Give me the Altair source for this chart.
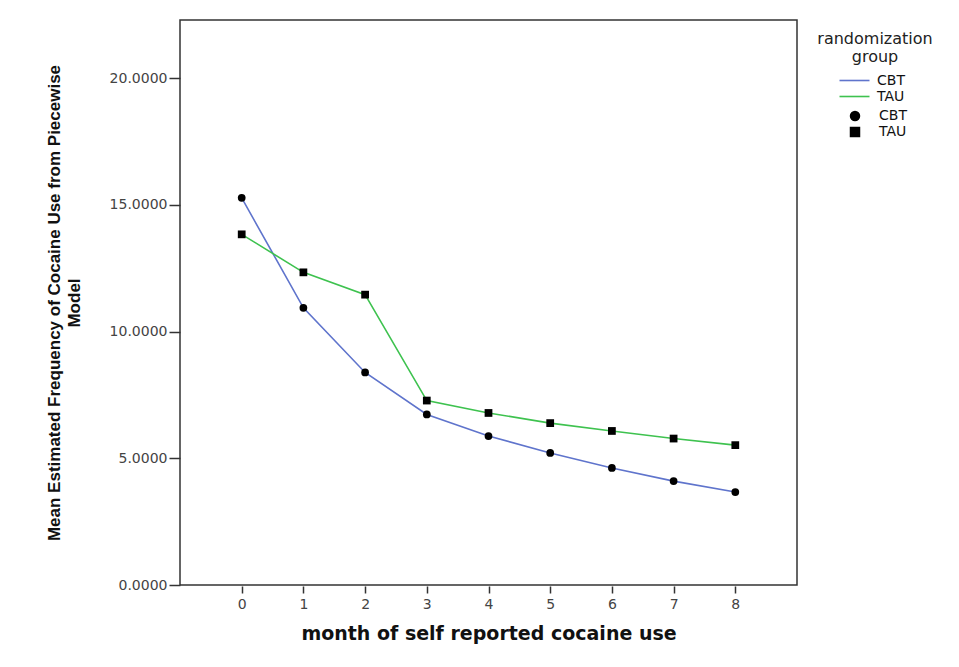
import altair as alt
import pandas as pd

months = [0, 1, 2, 3, 4, 5, 6, 7, 8]
cbt = [15.28, 10.94, 8.39, 6.73, 5.88, 5.21, 4.62, 4.10, 3.67]
tau = [13.84, 12.34, 11.46, 7.28, 6.79, 6.39, 6.08, 5.78, 5.52]
groups = ["CBT", "TAU"]
y_ticks = [0, 5, 10, 15, 20]

rows = []
for g, vals in zip(groups, [cbt, tau]):
    for m, v in zip(months, vals):
        rows.append({"month": m, "value": v, "group": g, "grp": g})
df = pd.DataFrame(rows)

BLUE = "#5f74cc"
GREEN = "#3ec24f"

x = alt.X(
    "month:Q",
    scale=alt.Scale(domain=[-1, 9], nice=False, zero=False),
    axis=alt.Axis(
        values=months, format="d", title="month of self reported cocaine use",
        grid=False, domain=False, tickSize=7, tickColor="#333", tickWidth=1.5,
        labelFont="DejaVu Sans", labelFontSize=14, labelColor="#444",
        labelPadding=4, offset=1,
        titleFont="DejaVu Sans", titleFontSize=19, titleFontWeight="bold",
        titleColor="#111", titlePadding=13,
    ),
)
y = alt.Y(
    "value:Q",
    scale=alt.Scale(domain=[0, 22.3], nice=False),
    axis=alt.Axis(
        values=y_ticks, format=".4f",
        title=["Mean Estimated Frequency of Cocaine Use from Piecewise", "Model"],
        grid=False, domain=False, tickSize=11, tickColor="#333", tickWidth=1.5,
        labelFont="DejaVu Sans", labelFontSize=14, labelColor="#444",
        labelPadding=2,
        titleFont="Liberation Sans", titleFontSize=17, titleFontWeight="bold",
        titleColor="#111", titleLineHeight=20, titlePadding=26,
    ),
)

lines = alt.Chart(df).mark_line(strokeWidth=1.6).encode(
    x=x, y=y,
    color=alt.Color(
        "group:N",
        scale=alt.Scale(domain=groups, range=[BLUE, GREEN]),
        legend=alt.Legend(
            title=["randomization", "group"], orient="none",
            legendX=637, legendY=11,
            symbolType="M-2,0H2", symbolSize=225, symbolStrokeWidth=1.6,
            titleFont="DejaVu Sans", titleFontSize=16, titleFontWeight="normal",
            titleColor="#222", titleAlign="center", titleAnchor="middle",
            titleLineHeight=18, titlePadding=7,
            labelFont="DejaVu Sans", labelFontSize=14, labelColor="#111",
            rowPadding=0, labelOffset=14,
        ),
    ),
)

points = alt.Chart(df).mark_point(filled=True, color="black", opacity=1, size=60).encode(
    x=x, y=y,
    shape=alt.Shape(
        "grp:N",
        scale=alt.Scale(range=["circle", "square"]),
        legend=alt.Legend(
            title=None, orient="none", legendX=668, legendY=89,
            symbolFillColor="black", symbolStrokeColor="black", symbolSize=110,
            labelFont="DejaVu Sans", labelFontSize=14, labelColor="#111",
            rowPadding=-2, labelOffset=17,
        ),
    ),
)

chart = (
    alt.layer(lines, points)
    .properties(width=617, height=565, background="white",
                padding={"left": 37, "top": 12, "right": 5, "bottom": 5})
    .configure_view(stroke="#333", strokeWidth=1.5)
)

chart.save("out.html", embed_options={"renderer": "svg", "actions": False})
